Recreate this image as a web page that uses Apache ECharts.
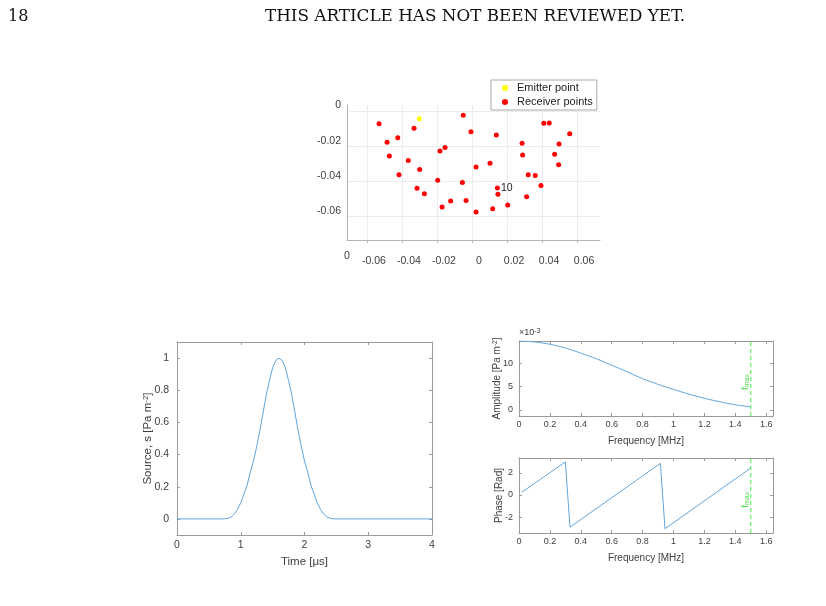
<!DOCTYPE html>
<html>
<head>
<meta charset="utf-8">
<script src="https://cdn.jsdelivr.net/npm/echarts@6/dist/echarts.min.js"></script>
<style>
  html, body { margin: 0; padding: 0; background: #fff; }
  #main { width: 826px; height: 606px; }
</style>
</head>
<body>
<div id="main"></div>
<script>
// transducer layout (m)
var emitterX = [-0.0301];
var emitterY = [-0.0044];
var receiverX = [-0.0531, -0.0331, -0.0050, -0.0424, -0.0485, -0.0472, -0.0364, -0.0417, -0.0299, -0.0314,
  -0.0272, -0.0183, -0.0154, -0.0196, -0.0171, -0.0122, -0.0055, -0.0034, -0.0006, 0.0023,
  0.0023, 0.0103, 0.0139, 0.0145, 0.0148, 0.0118, 0.0204, 0.0286, 0.0289, 0.0312,
  0.0321, 0.0361, 0.0394, 0.0410, 0.0441, 0.0497, 0.0472, 0.0495, 0.0558];
var receiverY = [-0.0072, -0.0098, -0.0024, -0.0152, -0.0178, -0.0256, -0.0282, -0.0362, -0.0333, -0.0439,
  -0.0470, -0.0227, -0.0208, -0.0394, -0.0545, -0.0511, -0.0407, -0.0509, -0.0118, -0.0318,
  -0.0574, -0.0297, -0.0136, -0.0437, -0.0473, -0.0555, -0.0534, -0.0183, -0.0250, -0.0487,
  -0.0362, -0.0367, -0.0424, -0.0070, -0.0068, -0.0187, -0.0246, -0.0305, -0.0129];
var taggedReceiver = 23;
var taggedText = '10';
var layoutTicks = [-0.06, -0.04, -0.02, 0, 0.02, 0.04, 0.06];
var depthTicks = [-0.06, -0.04, -0.02, 0];

// source pulse
var timeUs = [0, 0.7, 0.75, 0.8, 0.85, 0.9, 0.95, 1.0, 1.05, 1.1, 1.15, 1.2, 1.25, 1.3, 1.35, 1.4, 1.45, 1.5, 1.55, 1.6,
  1.65, 1.7, 1.75, 1.8, 1.85, 1.9, 1.95, 2.0, 2.05, 2.1, 2.15, 2.2, 2.25, 2.3, 2.35, 2.4, 2.45, 2.5, 4.0];
var source = [0, 0, 0.001, 0.004, 0.012, 0.03, 0.06, 0.1, 0.155, 0.21, 0.29, 0.36, 0.45, 0.55, 0.66, 0.77, 0.86, 0.94, 0.985, 1.0,
  0.985, 0.94, 0.86, 0.77, 0.66, 0.55, 0.45, 0.36, 0.29, 0.21, 0.155, 0.1, 0.06, 0.03, 0.012, 0.004, 0.001, 0, 0];
var timeTicks = [0, 1, 2, 3, 4];
var sourceTicks = [0, 0.2, 0.4, 0.6, 0.8, 1];

// spectrum (amplitude in 1e-3)
var freqAmp = [0, 0.1, 0.2, 0.3, 0.4, 0.5, 0.6, 0.7, 0.8, 0.9, 1.0, 1.1, 1.2, 1.3, 1.4, 1.5];
var amplitude = [14.8, 14.6, 14.1, 13.3, 12.2, 11.0, 9.6, 8.2, 6.7, 5.5, 4.4, 3.4, 2.5, 1.75, 1.1, 0.64];
var freqPhase = [0.02, 0.30, 0.33, 0.915, 0.945, 1.5];
var phase = [0.27, 3.0, -2.92, 2.87, -3.06, 2.45];
var freqTicks = [0, 0.2, 0.4, 0.6, 0.8, 1, 1.2, 1.4, 1.6];
var ampTicks = [0, 5, 10];
var phaseTicks = [-2, 0, 2];
var fMax = 1.5;

var font = 'Liberation Sans';
var txt = '#404040';
var box = '#9a9a9a';
var blue = '#5fa6de';
var green = '#3cf03c';

function pairs(xs, ys) {
  return xs.map(function (x, i) { return [x, ys[i]]; });
}

// matlab style box: bottom/left with labels, top/right only mirrored ticks
function boxX(grid, min, max, ticks, name, fs, gap, margin) {
  var common = {
    type: 'value', gridIndex: grid, min: min, max: max,
    axisLine: { show: true, onZero: false, lineStyle: { color: box, width: 1 } },
    axisTick: { show: true, inside: true, length: 3, customValues: ticks, lineStyle: { color: box } },
    splitLine: { show: false }
  };
  return [
    Object.assign({}, common, {
      position: 'bottom', name: name, nameLocation: 'middle', nameGap: gap, nameMoveOverlap: false,
      nameTextStyle: { fontFamily: font, fontSize: fs, color: txt },
      axisLabel: { customValues: ticks, fontFamily: font, fontSize: fs - 1, color: txt, margin: margin }
    }),
    Object.assign({}, common, { position: 'top', axisLabel: { show: false } })
  ];
}
function boxY(grid, min, max, ticks, name, fs, gap, margin) {
  var common = {
    type: 'value', gridIndex: grid, min: min, max: max,
    axisLine: { show: true, onZero: false, lineStyle: { color: box, width: 1 } },
    axisTick: { show: true, inside: true, length: 3, customValues: ticks, lineStyle: { color: box } },
    splitLine: { show: false }
  };
  return [
    Object.assign({}, common, {
      position: 'left', name: name, nameLocation: 'middle', nameGap: gap, nameMoveOverlap: false,
      nameTextStyle: { fontFamily: font, fontSize: fs, color: txt, rich: { s: { fontFamily: font, fontSize: fs - 3.5, color: txt, verticalAlign: 'top' } } },
      axisLabel: { customValues: ticks, fontFamily: font, fontSize: fs - 1, color: txt, margin: margin }
    }),
    Object.assign({}, common, { position: 'right', axisLabel: { show: false } })
  ];
}

var xAxes = [{
  type: 'value', gridIndex: 0, min: -0.0714, max: 0.0731,
  axisLine: { onZero: false, lineStyle: { color: '#b4b4b4' } },
  axisTick: { length: 3, customValues: layoutTicks, lineStyle: { color: '#b4b4b4' } },
  axisLabel: { customValues: layoutTicks, fontFamily: font, fontSize: 10.5, color: txt, margin: 16, padding: [0, 0, 0, 14] },
  splitLine: { show: true, lineStyle: { color: '#ececec' } }
}].concat(
  boxX(1, 0, 4, timeTicks, 'Time [μs]', 11.5, 21, 5),
  boxX(2, 0, 1.644, freqTicks, 'Frequency [MHz]', 10, 20.5, 4),
  boxX(3, 0, 1.644, freqTicks, 'Frequency [MHz]', 10, 20, 4)
);

var yAxes = [{
  type: 'value', gridIndex: 0, min: -0.0733, max: 0.0034,
  axisLine: { show: true, onZero: false, lineStyle: { color: '#b4b4b4' } },
  axisTick: { show: false, customValues: depthTicks },
  axisLabel: { customValues: depthTicks, fontFamily: font, fontSize: 10.5, color: txt, margin: 6, verticalAlign: 'bottom' },
  splitLine: { show: true, lineStyle: { color: '#ececec' } }
}].concat(
  boxY(1, -0.1, 1.1, sourceTicks, 'Source, s [Pa m{s|-2}]', 11.5, 23, 8),
  boxY(2, -1.3, 14.8, ampTicks, 'Amplitude [Pa m{s|-2}]', 10, 17, 6),
  boxY(3, -3.45, 3.36, phaseTicks, 'Phase [Rad]', 10, 15, 6)
);

var receiverData = pairs(receiverX, receiverY).map(function (p, i) {
  if (i !== taggedReceiver) return p;
  return {
    value: p,
    label: { show: true, formatter: taggedText, position: 'right', distance: 1, fontFamily: font, fontSize: 10.5, color: '#222' }
  };
});

function fmaxSeries(xi, yi, yMin, yMax, yLabel) {
  return [{
    type: 'line', xAxisIndex: xi, yAxisIndex: yi, symbol: 'none', silent: true,
    lineStyle: { color: green, width: 1, type: [4, 3] },
    data: [[fMax, yMin], [fMax, yMax]]
  }, {
    type: 'scatter', xAxisIndex: xi, yAxisIndex: yi, symbolSize: 0, silent: true,
    data: [[fMax, yLabel]],
    label: {
      show: true, position: 'inside', rotate: 90, offset: [0, -5],
      formatter: '{f|f}{m|max}',
      rich: {
        f: { fontFamily: font, fontSize: 9.5, color: '#22d022' },
        m: { fontFamily: font, fontSize: 7, color: '#22d022', verticalAlign: 'bottom' }
      }
    }
  }];
}

var chart = echarts.init(document.getElementById('main'), null, { renderer: 'canvas' });
var option = {
  animation: false,
  backgroundColor: '#fff',
  grid: [
    { left: 347, top: 105, width: 253, height: 135 },
    { left: 177, top: 342, width: 255, height: 193 },
    { left: 519, top: 341, width: 254, height: 75 },
    { left: 519, top: 458, width: 254, height: 75 }
  ],
  legend: {
    left: 491, top: 80, orient: 'vertical',
    backgroundColor: '#fff', borderColor: '#a8a8a8', borderWidth: 1, borderRadius: 0,
    padding: [2, 4, 2, 11], itemGap: 2, itemWidth: 14, itemHeight: 6,
    textStyle: { fontFamily: font, fontSize: 11, color: '#222', lineHeight: 12 },
    data: [{ name: 'Emitter point', icon: 'circle' }, { name: 'Receiver points', icon: 'circle' }]
  },
  xAxis: xAxes,
  yAxis: yAxes,
  graphic: [
    { type: 'text', left: 8, top: 9, style: { text: '18', font: '16px "DejaVu Serif"', fill: '#111' } },
    { type: 'text', left: 265, top: 8, style: { text: 'THIS ARTICLE HAS NOT BEEN REVIEWED YET.', font: '16.8px "DejaVu Serif"', fill: '#111' } },
    { type: 'text', left: 344, top: 251, style: { text: '0', font: '10.5px "Liberation Sans"', fill: txt } },
    { type: 'text', left: 519, top: 328, style: {
      text: '{a|×10}{s|-3}',
      rich: { a: { fontFamily: font, fontSize: 9, fill: txt }, s: { fontFamily: font, fontSize: 7, fill: txt, verticalAlign: 'top' } }
    } }
  ],
  series: [{
    name: 'Emitter point', type: 'scatter', xAxisIndex: 0, yAxisIndex: 0,
    symbolSize: 5, itemStyle: { color: '#ffff00', opacity: 1 },
    data: pairs(emitterX, emitterY)
  }, {
    name: 'Receiver points', type: 'scatter', xAxisIndex: 0, yAxisIndex: 0,
    symbolSize: 5, itemStyle: { color: '#ff0000', opacity: 1 },
    data: receiverData
  }, {
    type: 'line', xAxisIndex: 1, yAxisIndex: 1, symbol: 'none',
    lineStyle: { color: blue, width: 1 },
    data: pairs(timeUs, source)
  }, {
    type: 'line', xAxisIndex: 3, yAxisIndex: 3, symbol: 'none', smooth: 0.3,
    lineStyle: { color: blue, width: 1 },
    data: pairs(freqAmp, amplitude)
  }, {
    type: 'line', xAxisIndex: 5, yAxisIndex: 5, symbol: 'none',
    lineStyle: { color: blue, width: 1 },
    data: pairs(freqPhase, phase)
  }].concat(
    fmaxSeries(3, 3, -1.3, 14.8, 6.0),
    fmaxSeries(5, 5, -3.45, 3.36, -0.43)
  )
};
chart.setOption(option);
</script>
</body>
</html>
